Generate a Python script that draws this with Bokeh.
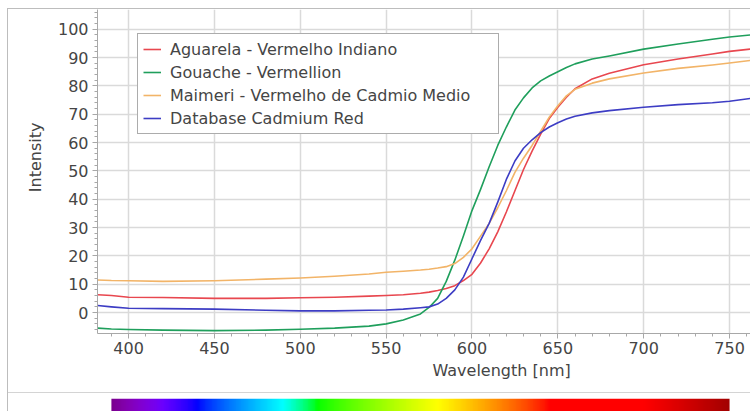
import numpy as np
from bokeh.plotting import figure
from bokeh.models import Range1d, Legend, LegendItem, Title, FixedTicker, ColumnDataSource
from bokeh.layouts import column
from bokeh.embed import file_html
from bokeh.resources import INLINE

# ---------------- data ----------------
wavelength = [382, 390, 400, 420, 450, 480, 500, 520, 540, 550, 560, 570, 575, 580, 585, 590,
              595, 600, 605, 610, 615, 620, 625, 630, 635, 640, 645, 650, 655, 660, 670, 680,
              700, 720, 740, 750, 762]
aguarela = [6.3, 6.0, 5.4, 5.3, 5.0, 5.0, 5.2, 5.4, 5.8, 6.0, 6.3, 6.8, 7.2, 7.8, 8.5, 9.5,
            11.3, 13.5, 17.5, 22.5, 28.5, 35.5, 43.0, 50.5, 57.0, 63.0, 68.5, 72.5, 76.0, 79.0, 82.5, 84.5,
            87.5, 89.5, 91.3, 92.2, 93.0]
gouache = [-5.5, -5.8, -6.0, -6.2, -6.4, -6.2, -5.9, -5.5, -4.8, -4.0, -2.6, -0.5, 1.8, 5.0, 11.0, 18.5,
           27.0, 36.0, 43.5, 51.5, 59.0, 65.5, 71.5, 75.8, 79.3, 81.8, 83.5, 85.0, 86.5, 87.8, 89.5, 90.6,
           93.0, 94.8, 96.5, 97.3, 98.0]
maimeri = [11.5, 11.3, 11.2, 11.0, 11.2, 11.8, 12.2, 12.8, 13.6, 14.2, 14.6, 15.0, 15.3, 15.7, 16.2, 17.3,
           19.5, 22.5, 27.0, 31.5, 37.0, 43.0, 49.5, 54.5, 59.0, 64.0, 69.0, 73.0, 76.5, 78.8, 81.0, 82.5,
           84.6, 86.2, 87.4, 88.1, 89.0]
database = [2.5, 2.0, 1.5, 1.4, 1.2, 0.8, 0.6, 0.6, 0.8, 0.9, 1.2, 1.7, 2.0, 3.0, 5.0, 8.0,
            12.5, 19.0, 25.5, 31.5, 39.0, 47.0, 53.5, 58.0, 61.0, 63.5, 65.5, 67.0, 68.3, 69.3, 70.5, 71.3,
            72.5, 73.4, 74.1, 74.6, 75.6]

series_names = ["Aguarela - Vermelho Indiano", "Gouache - Vermellion",
                "Maimeri - Vermelho de Cadmio Medio", "Database Cadmium Red"]
series_values = [aguarela, gouache, maimeri, database]
series_colors = ["#e8474f", "#1f9f5c", "#f2b468", "#3d3dc4"]

x_ticks = [400, 450, 500, 550, 600, 650, 700, 750]
y_ticks = [0, 10, 20, 30, 40, 50, 60, 70, 80, 90, 100]
x_label = "Wavelength [nm]"
y_label = "Intensity"
spectrum_start, spectrum_end = 390, 750

FONT = "DejaVu Sans"
TXT = "#454545"
AX = "#a8a8a8"

# ---------------- main chart ----------------
p = figure(width=742, height=383, x_range=Range1d(381.9, 762.2), y_range=Range1d(-7.4, 107.0),
           min_border_left=89, min_border_right=0, min_border_top=0, min_border_bottom=59,
           toolbar_location=None, output_backend="svg")
p.outline_line_color = None
p.background_fill_color = "white"
p.border_fill_color = "white"

for ax in (p.xaxis, p.yaxis):
    ax.axis_line_color = AX
    ax.major_tick_line_color = AX
    ax.minor_tick_line_color = AX
    ax.major_tick_out = 5
    ax.major_tick_in = 0
    ax.minor_tick_out = 3
    ax.minor_tick_in = 0
    ax.major_label_text_font = FONT
    ax.major_label_text_font_size = "16px"
    ax.major_label_text_color = TXT
    ax.major_label_standoff = 4
p.xaxis.major_label_standoff = 3
p.xaxis.ticker = FixedTicker(ticks=x_ticks, minor_ticks=list(range(380, 770, 10)))
p.yaxis.ticker = FixedTicker(ticks=y_ticks, minor_ticks=list(range(-6, 108, 2)))

p.xgrid.ticker = FixedTicker(ticks=x_ticks)
p.ygrid.ticker = FixedTicker(ticks=y_ticks)
for g in (p.xgrid, p.ygrid):
    g.grid_line_color = "#dadada"
    g.grid_line_width = 1.5

renderers = []
for vals, col in zip(series_values, series_colors):
    src = ColumnDataSource(dict(x=wavelength, y=vals))
    r = p.line("x", "y", source=src, line_color=col, line_width=1.6, line_join="round")
    renderers.append(r)

legend = Legend(items=[LegendItem(label=n, renderers=[r]) for n, r in zip(series_names, renderers)],
                location=(40, 199), padding=5, spacing=3, margin=0,
                glyph_width=18, glyph_height=20, label_height=20, label_width=323,
                label_standoff=9, label_text_font=FONT, label_text_font_size="16px",
                label_text_color=TXT, border_line_color="#5a5a5a", border_line_width=1.5,
                background_fill_color="white", background_fill_alpha=1.0)
p.add_layout(legend)

p.add_layout(Title(text=x_label, align="left", offset=335, standoff=4,
                   text_font=FONT, text_font_size="16px", text_font_style="normal",
                   text_color=TXT), "below")
p.add_layout(Title(text=y_label, align="right", offset=113, standoff=20,
                   text_font=FONT, text_font_size="16px", text_font_style="normal",
                   text_color=TXT), "left")

# ---------------- spectrum bar ----------------
def wl_rgb(w):
    if w < 440:
        r, g, b = -(w - 440) / 60.0, 0.0, 1.0
    elif w < 490:
        r, g, b = 0.0, (w - 440) / 50.0, 1.0
    elif w < 510:
        r, g, b = 0.0, 1.0, -(w - 510) / 20.0
    elif w < 580:
        r, g, b = (w - 510) / 70.0, 1.0, 0.0
    elif w < 645:
        r, g, b = 1.0, -(w - 645) / 65.0, 0.0
    else:
        r, g, b = 1.0, 0.0, 0.0
    if w < 420:
        f = 0.3 + 0.7 * (w - 380) / 40.0
    elif w > 700:
        f = 0.3 + 0.7 * (780 - w) / 80.0
    else:
        f = 1.0
    def c(v):
        return 0 if v <= 0 else int(round(255 * (v * f) ** 0.8))
    return c(r), c(g), c(b)

n_bins = spectrum_end - spectrum_start
img = np.zeros((1, n_bins), dtype=np.uint32)
view = img.view(dtype=np.uint8).reshape((1, n_bins, 4))
for i in range(n_bins):
    r, g, b = wl_rgb(spectrum_start + i + 0.5)
    view[0, i] = [r, g, b, 255]

p2 = figure(width=742, height=19, x_range=p.x_range, y_range=Range1d(0, 1),
            min_border_left=89, min_border_right=0, min_border_top=5, min_border_bottom=0,
            toolbar_location=None, output_backend="svg",
            styles={"border-top": "1px solid #d4d4d4"})
p2.axis.visible = False
p2.grid.visible = False
p2.outline_line_color = None
p2.image_rgba(image=[img], x=spectrum_start, y=0, dw=n_bins, dh=1)

layout = column(p, p2, spacing=0,
                styles={"margin-left": "7px", "margin-top": "8px",
                        "border-left": "1px solid #bdbdbd", "border-top": "1px solid #bdbdbd"})
open("out.html", "w").write(file_html(layout, INLINE))
